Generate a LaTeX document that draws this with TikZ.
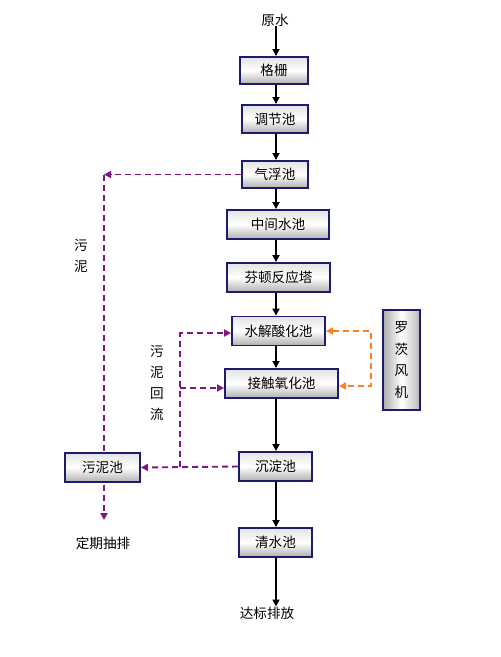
\documentclass[tikz,border=0pt]{standalone}
\usepackage{fontspec}
\newfontfamily\cjk{Noto Sans CJK SC}
\usetikzlibrary{arrows.meta}
\pgfdeclarelayer{bg}
\pgfsetlayers{bg,main}
\definecolor{navy}{RGB}{28,28,110}
\definecolor{sludge}{RGB}{128,20,128}
\definecolor{air}{RGB}{255,128,32}
\begin{document}
\begin{tikzpicture}[x=1pt,y=-1pt,
  font=\cjk\fontsize{13.6}{15}\selectfont,
  box/.style={draw=navy, line width=1.9pt, top color=gray!22, bottom color=gray!62, middle color=white, inner sep=0pt},
  vbox/.style={draw=navy, line width=1.9pt, left color=gray!65, right color=gray!55, middle color=white, inner sep=0pt, align=center, font=\cjk\fontsize{13.6}{21.5}\selectfont},
  lbl/.style={inner sep=0pt},
  vlbl/.style={inner sep=0pt, align=center, font=\cjk\fontsize{13.6}{21}\selectfont},
  blk/.style={line width=1.7pt, black, -{Triangle[length=7pt,width=7pt]}},
  pd/.style={line width=1.9pt, sludge, dash pattern=on 6pt off 4pt, -{Triangle[length=7pt,width=7pt]}},
  od/.style={line width=1.9pt, air, dash pattern=on 6pt off 4pt, {Triangle[length=7pt,width=7pt]}-{Triangle[length=7pt,width=7pt]}}
]
\useasboundingbox (0,0) rectangle (501,657);
\coordinate (ax) at (276,0);

% text nodes
\node[lbl] (ys) at (275,20) {原水};
\node[lbl] (db) at (267,613) {达标排放};
\node[lbl] (dq) at (103,543) {定期抽排};
\node[vlbl] (wnl) at (81,255.5) {污\\泥};
\node[vlbl] (hl) at (157,382.5) {污\\泥\\回\\流};

% boxes
\node[box, minimum width=68pt, minimum height=27pt] (gs) at (274,70.5) {格栅};
\node[box, minimum width=66pt, minimum height=28pt] (tj) at (275,119) {调节池};
\node[box, minimum width=66pt, minimum height=27pt] (qf) at (275,174.5) {气浮池};
\node[box, minimum width=102pt, minimum height=29pt] (zj) at (278,224.5) {中间水池};
\node[box, minimum width=103pt, minimum height=29pt] (fd) at (278.5,277.5) {芬顿反应塔};
\node[box, minimum width=93pt, minimum height=29pt] (sj) at (278.5,331) {水解酸化池};
\node[box, minimum width=113pt, minimum height=29pt] (jc) at (281.5,383.5) {接触氧化池};
\node[box, minimum width=73pt, minimum height=29pt] (cd) at (275.5,466.5) {沉淀池};
\node[box, minimum width=73pt, minimum height=29pt] (qs) at (275.5,542.5) {清水池};
\node[box, minimum width=75pt, minimum height=29pt] (wn) at (102.5,467.5) {污泥池};
\node[vbox, minimum width=37pt, minimum height=100pt] (lc) at (401.5,360) {罗\\茨\\风\\机};

% main flow
\draw[blk] (ys.south -| ax) -- (gs.north -| ax);
\draw[blk] (gs.south -| ax) -- (tj.north -| ax);
\draw[blk] (tj.south -| ax) -- (qf.north -| ax);
\draw[blk] (qf.south -| ax) -- (zj.north -| ax);
\draw[blk] (zj.south -| ax) -- (fd.north -| ax);
\draw[blk] (fd.south -| ax) -- (sj.north -| ax);
\draw[blk] (sj.south -| ax) -- (jc.north -| ax);
\draw[blk] (jc.south -| ax) -- (cd.north -| ax);
\draw[blk] (cd.south -| ax) -- (qs.north -| ax);
\draw[blk] (qs.south -| ax) -- (db.north -| ax);

% sludge lines
\coordinate (tl) at (104,174.5);
\coordinate (ex) at (104,520);
\coordinate (r0) at (180,466.5);
\coordinate (r1) at (180,333);
\coordinate (r2) at (180,388);
\coordinate (o1) at (371,331);
\coordinate (o2) at (371,386);
\begin{pgfonlayer}{bg}
\draw[pd] (qf.west) -- (tl);
\draw[pd] (tl) -- (ex);
\end{pgfonlayer}
\draw[pd] (cd.west) -- (wn.east);
\draw[pd] (r0) -- (r1) -- (r1 -| sj.west);
\draw[pd] (r2) -- (r2 -| jc.west);

% air lines
\draw[od] (o1 -| sj.east) -- (o1) -- (o2) -- (o2 -| jc.east);
\end{tikzpicture}
\end{document}
